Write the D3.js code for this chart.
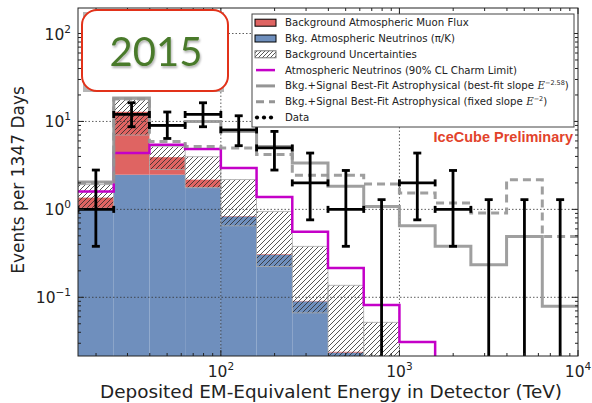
<!DOCTYPE html>
<html>
<head>
<meta charset="utf-8">
<script src="https://cdn.jsdelivr.net/npm/d3@7"></script>
<style>
  body { margin: 0; background: #fff; }
  svg { display: block; }
</style>
</head>
<body>
<svg id="chart" width="592" height="403"></svg>
<script>
// ---------------- data ----------------
const binEdges = [15.85, 25.12, 39.81, 63.1, 100, 158.5, 251.2, 398.1, 631, 1000, 1585, 2512, 3981, 6310, 10000];
// atmospheric neutrinos (blue)
const atmNu = [1.03, 2.48, 2.48, 1.78, 0.83, 0.305, 0.090, 0.0235, 0.008, 0.003, 0.001, 0.0005, 0.0003, 0.0002];
// atmospheric muons (red) stacked on top
const atmMu = [0.33, 10.4, 1.44, 0.40, 0.01, 0.005, 0.001, 0.0005, 0.0002, 0.0001, 0.0001, 0.0001, 0.0001, 0.0001];
// background uncertainty band
const uncLo = [1.03, 7.0, 2.83, 1.76, 0.65, 0.224, 0.0665, 0.018, 0.005, 0.002, 0.001, 0.0005, 0.0003, 0.0002];
const uncHi = [1.91, 17.7, 5.16, 3.97, 2.18, 0.95, 0.38, 0.137, 0.052, 0.012, 0.008, 0.005, 0.004, 0.003];
// charm limit (magenta)
const charmLimit = [1.60, 4.37, 5.43, 4.86, 2.95, 1.38, 0.558, 0.216, 0.0815, 0.031, 0.012, 0.005, 0.002, 0.001];
// best fit bkg+signal, free slope (solid gray)
const fitFree = [2.05, 18.5, 9.0, 10.0, 7.7, 5.2, 3.37, 1.83, 1.08, 0.65, 0.38, 0.235, 0.49, 0.079];
// best fit bkg+signal, fixed E^-2 (dashed gray)
const fitFixed = [2.0, 18.0, 5.9, 5.2, 5.0, 4.2, 2.45, 2.45, 1.94, 1.54, 1.18, 0.91, 2.17, 0.49];
// observed data
const dataCounts = [1, 12, 9, 12, 8, 5, 2, 1, 0, 2, 1, 0, 0, 0];
const dataUp = [2.8, 16.3, 12.8, 16.3, 11.6, 7.7, 4.37, 2.77, 1.29, 4.37, 2.77, 1.29, 1.29, 1.29];
const dataDown = [0.38, 8.7, 6.4, 8.7, 5.3, 2.8, 0.76, 0.38, 0, 0.76, 0.38, 0, 0, 0];

const xTicks = [100, 1000, 10000];
const xTickExp = ["2", "3", "4"];
const yTicks = [0.1, 1, 10, 100];
const yTickExp = ["-1", "0", "1", "2"];

const legendLabels = [
  "Background Atmospheric Muon Flux",
  "Bkg. Atmospheric Neutrinos (\u03c0/K)",
  "Background Uncertainties",
  "Atmospheric Neutrinos (90% CL Charm Limit)",
  "Bkg.+Signal Best-Fit Astrophysical (best-fit slope",
  "Bkg.+Signal Best-Fit Astrophysical (fixed slope",
  "Data"
];
const legendExp = [null, null, null, null, "\u22122.58", "\u22122", null];

// ---------------- layout ----------------
const svg = d3.select("#chart");
const L = 78, R = 578, T = 8, B = 356;
const x = d3.scaleLog().domain([15.85, 10000]).range([L, R]);
const y = d3.scaleLog().domain([0.0215, 195]).range([B, T]);

const BLUE = "#6f8fbd", RED = "#df6462", MAG = "#c400c8", GRAY = "#959595";

const defs = svg.append("defs");
defs.append("clipPath").attr("id", "clip")
  .append("rect").attr("x", L).attr("y", T).attr("width", R - L).attr("height", B - T);
const pat = defs.append("pattern").attr("id", "hatch")
  .attr("patternUnits", "userSpaceOnUse").attr("width", 5).attr("height", 5);
pat.append("path").attr("d", "M-1,1 L1,-1 M0,5 L5,0 M4,6 L6,4")
  .attr("stroke", "#2a2a2a").attr("stroke-width", 0.8);
const pat2 = defs.append("pattern").attr("id", "hatchL")
  .attr("patternUnits", "userSpaceOnUse").attr("width", 4).attr("height", 4);
pat2.append("path").attr("d", "M-1,1 L1,-1 M0,4 L4,0 M3,5 L5,3")
  .attr("stroke", "#2a2a2a").attr("stroke-width", 0.8);
const sh = defs.append("filter").attr("id", "shadow").attr("x", "-20%").attr("y", "-20%").attr("width", "140%").attr("height", "140%");
sh.append("feDropShadow").attr("dx", 1).attr("dy", 2).attr("stdDeviation", 1.2)
  .attr("flood-color", "#000").attr("flood-opacity", 0.3);

const bins = d3.range(binEdges.length - 1).map(i => ({
  x0: binEdges[i], x1: binEdges[i + 1],
  nu: atmNu[i], tot: atmNu[i] + atmMu[i], lo: uncLo[i], hi: uncHi[i],
  charm: charmLimit[i], ff: fitFree[i], fx: fitFixed[i],
  n: dataCounts[i], up: dataUp[i], dn: dataDown[i]
}));

const g = svg.append("g").attr("clip-path", "url(#clip)");
const ymin = y.domain()[0] * 0.5;

// blue fill
g.selectAll("rect.nu").data(bins).join("rect")
  .attr("x", d => x(d.x0)).attr("width", d => x(d.x1) - x(d.x0))
  .attr("y", d => y(d.nu)).attr("height", d => y(ymin) - y(d.nu))
  .attr("fill", BLUE);
// red fill
g.selectAll("rect.mu").data(bins).join("rect")
  .attr("x", d => x(d.x0)).attr("width", d => x(d.x1) - x(d.x0))
  .attr("y", d => y(d.tot)).attr("height", d => y(d.nu) - y(d.tot))
  .attr("fill", RED);
// uncertainty band
g.selectAll("rect.unc").data(bins).join("rect")
  .attr("x", d => x(d.x0)).attr("width", d => x(d.x1) - x(d.x0))
  .attr("y", d => y(d.hi)).attr("height", d => y(d.lo) - y(d.hi))
  .attr("fill", "url(#hatch)").attr("stroke", "#aaa").attr("stroke-width", 0.8);

// grid
const gridX = [100, 1000];
const gridY = [0.1, 1, 10, 100];
g.selectAll("line.gx").data(gridX).join("line")
  .attr("x1", d => x(d)).attr("x2", d => x(d)).attr("y1", T).attr("y2", B)
  .attr("stroke", "#333").attr("stroke-width", 0.8).attr("stroke-dasharray", "1.5,2");
g.selectAll("line.gy").data(gridY).join("line")
  .attr("y1", d => y(d)).attr("y2", d => y(d)).attr("x1", L).attr("x2", R)
  .attr("stroke", "#333").attr("stroke-width", 0.8).attr("stroke-dasharray", "1.5,2");

// step lines
function stepPts(key) {
  const pts = [];
  bins.forEach(d => { pts.push([d.x0, d[key]]); pts.push([d.x1, d[key]]); });
  return pts;
}
const line = d3.line().x(p => x(p[0])).y(p => y(Math.max(p[1], ymin)));
g.append("path").attr("d", line(stepPts("charm")))
  .attr("fill", "none").attr("stroke", MAG).attr("stroke-width", 2.5);
g.append("path").attr("d", line(stepPts("ff")))
  .attr("fill", "none").attr("stroke", GRAY).attr("stroke-width", 3).attr("stroke-opacity", 0.9);
g.append("path").attr("d", line(stepPts("fx")))
  .attr("fill", "none").attr("stroke", GRAY).attr("stroke-width", 3)
  .attr("stroke-dasharray", "8,5").attr("stroke-opacity", 0.9);

// data
const dg = g.append("g").attr("stroke", "#000").attr("stroke-width", 2.8);
bins.forEach(d => {
  const xc = Math.sqrt(d.x0 * d.x1);
  const top = y(d.up);
  const bot = d.dn > 0 ? y(d.dn) : B + 5;
  dg.append("line").attr("x1", x(xc)).attr("x2", x(xc)).attr("y1", top).attr("y2", bot);
  dg.append("line").attr("x1", x(xc) - 4).attr("x2", x(xc) + 4).attr("y1", top).attr("y2", top);
  if (d.n > 0) {
    dg.append("line").attr("x1", x(xc) - 4).attr("x2", x(xc) + 4).attr("y1", bot).attr("y2", bot);
    dg.append("line").attr("x1", x(d.x0)).attr("x2", x(d.x1)).attr("y1", y(d.n)).attr("y2", y(d.n));
    dg.append("line").attr("x1", x(d.x0)).attr("x2", x(d.x0)).attr("y1", y(d.n) - 3.5).attr("y2", y(d.n) + 3.5);
    dg.append("line").attr("x1", x(d.x1)).attr("x2", x(d.x1)).attr("y1", y(d.n) - 3.5).attr("y2", y(d.n) + 3.5);
  }
});

// frame and ticks
svg.append("rect").attr("x", L).attr("y", T).attr("width", R - L).attr("height", B - T)
  .attr("fill", "none").attr("stroke", "#222").attr("stroke-width", 1);

const minorX = [], minorY = [];
[10, 100, 1000].forEach(dec => d3.range(2, 10).forEach(m => { const v = dec * m; if (v > 15.85 && v < 10000) minorX.push(v); }));
[0.01, 0.1, 1, 10, 100].forEach(dec => d3.range(2, 10).forEach(m => { const v = dec * m; if (v > 0.0215 && v < 195) minorY.push(v); }));
const tk = svg.append("g").attr("stroke", "#222").attr("stroke-width", 1);
xTicks.forEach(v => {
  tk.append("line").attr("x1", x(v)).attr("x2", x(v)).attr("y1", B).attr("y2", B - 6);
  tk.append("line").attr("x1", x(v)).attr("x2", x(v)).attr("y1", T).attr("y2", T + 6);
});
minorX.forEach(v => {
  tk.append("line").attr("x1", x(v)).attr("x2", x(v)).attr("y1", B).attr("y2", B - 3);
  tk.append("line").attr("x1", x(v)).attr("x2", x(v)).attr("y1", T).attr("y2", T + 3);
});
yTicks.forEach(v => {
  tk.append("line").attr("y1", y(v)).attr("y2", y(v)).attr("x1", L).attr("x2", L + 6);
  tk.append("line").attr("y1", y(v)).attr("y2", y(v)).attr("x1", R).attr("x2", R - 6);
});
minorY.forEach(v => {
  tk.append("line").attr("y1", y(v)).attr("y2", y(v)).attr("x1", L).attr("x2", L + 3);
  tk.append("line").attr("y1", y(v)).attr("y2", y(v)).attr("x1", R).attr("x2", R - 3);
});

const FONT = "DejaVu Sans";
// tick labels
xTicks.forEach((v, i) => {
  const t = svg.append("text").attr("x", x(v)).attr("y", 377).attr("text-anchor", "middle")
    .attr("font-family", FONT).attr("font-size", 15.5).attr("fill", "#222");
  t.append("tspan").text("10");
  t.append("tspan").attr("dy", -7).attr("font-size", 10.5).text(xTickExp[i]);
});
yTicks.forEach((v, i) => {
  const t = svg.append("text").attr("x", 71).attr("y", y(v) + 6).attr("text-anchor", "end")
    .attr("font-family", FONT).attr("font-size", 15.5).attr("fill", "#222");
  t.append("tspan").text("10");
  t.append("tspan").attr("dy", -7).attr("font-size", 10.5).text(yTickExp[i].replace("-", "\u2212"));
});

// axis labels
svg.append("text").attr("x", 100).attr("y", 398)
  .attr("font-family", FONT).attr("font-size", 17.5).attr("fill", "#222")
  .attr("textLength", 462).attr("lengthAdjust", "spacingAndGlyphs")
  .text("Deposited EM-Equivalent Energy in Detector (TeV)");
svg.append("text").attr("transform", "translate(24,180) rotate(-90)").attr("text-anchor", "middle")
  .attr("font-family", FONT).attr("font-size", 17).attr("fill", "#222")
  .text("Events per 1347 Days");

// legend
const lg = svg.append("g");
lg.append("rect").attr("x", 252).attr("y", 14).attr("width", 322).attr("height", 113)
  .attr("fill", "#fff").attr("stroke", "#444").attr("stroke-width", 1);
const ly0 = 22.7, lstep = 15.8;
legendLabels.forEach((lab, i) => {
  const yy = ly0 + i * lstep;
  if (i === 0) lg.append("rect").attr("x", 255).attr("y", yy - 3.5).attr("width", 21).attr("height", 7).attr("fill", RED).attr("stroke", "#000");
  if (i === 1) lg.append("rect").attr("x", 255).attr("y", yy - 3.5).attr("width", 21).attr("height", 7).attr("fill", BLUE).attr("stroke", "#000");
  if (i === 2) lg.append("rect").attr("x", 255).attr("y", yy - 3.5).attr("width", 21).attr("height", 7).attr("fill", "url(#hatchL)").attr("stroke", "#777");
  if (i === 3) lg.append("line").attr("x1", 256).attr("x2", 275).attr("y1", yy).attr("y2", yy).attr("stroke", MAG).attr("stroke-width", 2.5);
  if (i === 4) lg.append("line").attr("x1", 256).attr("x2", 275).attr("y1", yy).attr("y2", yy).attr("stroke", GRAY).attr("stroke-width", 3);
  if (i === 5) lg.append("line").attr("x1", 256).attr("x2", 275).attr("y1", yy).attr("y2", yy).attr("stroke", GRAY).attr("stroke-width", 3).attr("stroke-dasharray", "8,5");
  if (i === 6) [257, 264, 271].forEach(cx => lg.append("circle").attr("cx", cx).attr("cy", yy).attr("r", 2.1).attr("fill", "#000"));
  const main = lg.append("text").attr("x", 285).attr("y", yy + 3.5)
    .attr("font-family", FONT).attr("font-size", 10.2).attr("fill", "#222")
    .text(lab);
  if (legendExp[i]) {
    const w = main.node().getComputedTextLength();
    const t = lg.append("text").attr("x", 285 + w + 3.5).attr("y", yy + 3.5)
      .attr("font-family", FONT).attr("font-size", 10.2).attr("fill", "#222");
    t.append("tspan").attr("font-style", "italic").attr("font-family", "DejaVu Serif").text("E");
    t.append("tspan").attr("dy", -4).attr("font-size", 6.5).text(legendExp[i]);
    t.append("tspan").attr("dy", 4).text(")");
  }
});

// IceCube Preliminary
svg.append("text").attr("x", 573).attr("y", 142).attr("text-anchor", "end")
  .attr("font-family", "Liberation Sans").attr("font-weight", "bold").attr("font-size", 14.5)
  .attr("fill", "#e2432b").text("IceCube Preliminary");

// 2015 box
svg.append("rect").attr("x", 83).attr("y", 12).attr("width", 141).attr("height", 80).attr("fill", "#b5b5b5");
svg.append("rect").attr("x", 82).attr("y", 10).attr("width", 146).attr("height", 81).attr("rx", 15)
  .attr("fill", "#fff").attr("stroke", "#e2321a").attr("stroke-width", 2);
svg.append("text").attr("x", 156).attr("y", 66).attr("text-anchor", "middle")
  .attr("font-family", "Lato").attr("font-size", 40).attr("fill", "#4a7a2c")
  .attr("filter", "url(#shadow)").text("2015");
</script>
</body>
</html>
